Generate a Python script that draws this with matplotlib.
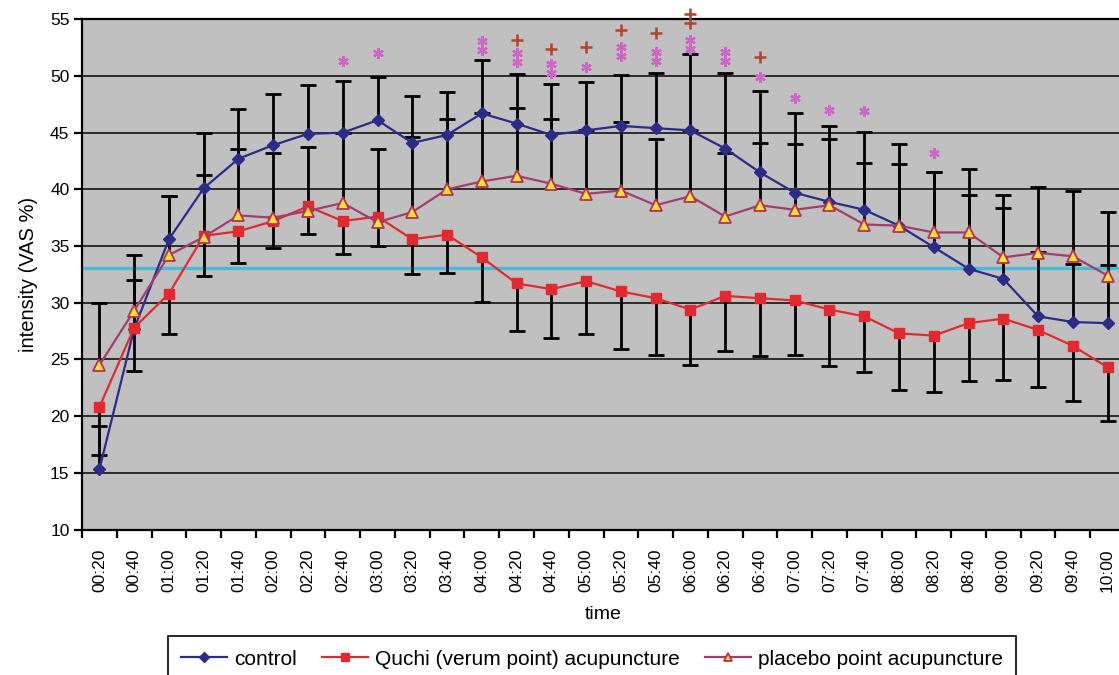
import numpy as np
import matplotlib
matplotlib.use("Agg")
import matplotlib.pyplot as plt

# ---------------- data ----------------
times = ["00:20", "00:40", "01:00", "01:20", "01:40", "02:00", "02:20", "02:40",
         "03:00", "03:20", "03:40", "04:00", "04:20", "04:40", "05:00", "05:20",
         "05:40", "06:00", "06:20", "06:40", "07:00", "07:20", "07:40", "08:00",
         "08:20", "08:40", "09:00", "09:20", "09:40", "10:00"]

control = [15.3, 27.7, 35.6, 40.1, 42.7, 43.9, 44.9, 45.0, 46.1, 44.1,
           44.8, 46.7, 45.8, 44.8, 45.2, 45.6, 45.4, 45.2, 43.6, 41.5,
           39.7, 38.9, 38.2, 36.8, 34.9, 33.0, 32.1, 28.8, 28.3, 28.2]
control_sd = [3.8, 4.3, 3.8, 4.9, 4.4, 4.5, 4.3, 4.6, 3.8, 4.1,
              3.8, 4.7, 4.4, 4.5, 4.3, 4.5, 4.9, 6.7, 6.7, 7.2,
              7.0, 6.7, 6.9, 7.2, 6.6, 6.5, 6.3, 5.7, 5.1, 5.1]

quchi = [20.8, 27.8, 30.8, 35.9, 36.3, 37.2, 38.5, 37.2, 37.6, 35.6,
         36.0, 34.0, 31.7, 31.2, 31.9, 31.0, 30.4, 29.4, 30.6, 30.4,
         30.2, 29.4, 28.8, 27.3, 27.1, 28.2, 28.6, 27.6, 26.2, 24.3]
quchi_sd = [4.2, 3.8, 3.6, 3.5, 2.8, 2.4, 2.4, 2.9, 2.6, 3.1,
            3.4, 3.9, 4.2, 4.3, 4.7, 5.1, 5.0, 4.9, 4.9, 5.1,
            4.8, 5.0, 4.9, 5.0, 5.0, 5.1, 5.4, 5.0, 4.9, 4.7]

placebo = [24.5, 29.3, 34.2, 35.8, 37.7, 37.5, 38.1, 38.8, 37.1, 38.0,
           40.0, 40.7, 41.2, 40.5, 39.6, 39.9, 38.6, 39.4, 37.6, 38.6,
           38.2, 38.6, 36.9, 36.8, 36.2, 36.2, 34.0, 34.4, 34.1, 32.4]
placebo_sd = [5.5, 4.9, 5.2, 5.5, 5.9, 5.7, 5.6, 6.2, 6.5, 6.6,
              6.2, 6.0, 6.0, 5.7, 5.6, 6.0, 5.8, 5.8, 5.6, 5.5,
              5.8, 5.8, 5.4, 5.4, 5.3, 5.6, 5.5, 5.8, 5.8, 5.6]

baseline = 33.1

# significance markers (category label, y position in VAS %)
star_t = ["02:40", "03:00", "04:00", "04:00", "04:20", "04:20", "04:40", "04:40",
          "05:00", "05:20", "05:20", "05:40", "05:40", "06:00", "06:00",
          "06:20", "06:20", "06:40", "07:00", "07:20", "07:40", "08:20"]
star_y = [51.3, 52.0, 53.1, 52.3, 52.0, 51.25, 51.1, 50.3,
          50.8, 52.6, 51.8, 52.15, 51.35, 53.2, 52.4,
          52.15, 51.35, 49.9, 48.1, 47.0, 46.9, 43.2]
plus_t = ["04:20", "04:40", "05:00", "05:20", "05:40", "06:00", "06:00", "06:40"]
plus_y = [53.2, 52.4, 52.6, 54.1, 53.8, 55.5, 54.7, 51.7]

# ---------------- plot ----------------
plt.rcParams['font.family'] = ['Liberation Sans', 'DejaVu Sans']

W, H = 1119, 675
fig = plt.figure(figsize=(W / 100, H / 100), dpi=100)
ax = fig.add_axes([82 / W, 1 - 529.5 / H, 1043 / W, (529.5 - 19.3) / H])
ax.set_facecolor('#C0C0C0')

x = np.arange(len(times))
pos = {t: i for i, t in enumerate(times)}

ax.set_xlim(-0.5, len(times) - 0.5)
ax.set_ylim(10, 55)
ax.set_yticks(np.arange(10, 56, 5))
ax.grid(axis='y', color='#202020', lw=1.3, zorder=1)
ax.set_axisbelow(True)

# cyan reference line
ax.axhline(baseline, color='#45BCD8', lw=2.4, zorder=1.5)

c_arr, q_arr, p_arr = np.array(control), np.array(quchi), np.array(placebo)
cap_kw = dict(ls='none', marker='_', ms=11.5, mew=2, color='black', zorder=2)
# control: upper bars
ax.vlines(x, c_arr, c_arr + np.array(control_sd), color='black', lw=2, zorder=2)
ax.plot(x, c_arr + np.array(control_sd), **cap_kw)
# quchi: lower bars
ax.vlines(x, q_arr - np.array(quchi_sd), q_arr, color='black', lw=2, zorder=2)
ax.plot(x, q_arr - np.array(quchi_sd), **cap_kw)
# placebo: upper bars
ax.vlines(x, p_arr, p_arr + np.array(placebo_sd), color='black', lw=2, zorder=2)
ax.plot(x, p_arr + np.array(placebo_sd), **cap_kw)

ax.plot(x, control, color='#2B2B88', lw=1.6, marker='D', ms=6.5,
        mfc='#2B2B88', mec='#2B2B88', label='control', zorder=3)
ax.plot(x, quchi, color='#E22A2E', lw=1.6, marker='s', ms=7,
        mfc='#E22A2E', mec='#E22A2E', label='Quchi (verum point) acupuncture', zorder=4)
ax.plot(x, placebo, color='#A03E70', lw=1.6, marker='^', ms=8.5,
        mfc='#FFE233', mec='#B8304E', mew=1.3, label='placebo point acupuncture', zorder=5)

# significance symbols
ax.plot([pos[t] for t in star_t], star_y, ls='none', marker=(6, 2, 0), ms=7.5,
        mew=1.7, color='#D065C8', zorder=6, clip_on=False)
ax.plot([pos[t] for t in plus_t], plus_y, ls='none', marker='+', ms=8.5,
        mew=1.8, color='#B8402C', zorder=6, clip_on=False)

# axes styling
for s in ['top', 'left', 'bottom', 'right']:
    ax.spines[s].set_color('black')
    ax.spines[s].set_linewidth(1.6)

ax.set_xticks(x)
ax.set_xticklabels(times, rotation=90, fontsize=12.5)
ax.tick_params(axis='x', which='major', length=0, pad=14)
ax.set_xticks(np.arange(-0.5, len(times), 1), minor=True)
ax.tick_params(axis='x', which='minor', length=6, width=1.6, direction='out')
ax.tick_params(axis='y', length=6, width=1.6, labelsize=12.5, pad=3)

ax.set_xlabel('time', fontsize=14, labelpad=10)
ax.set_ylabel('intensity (VAS %)', fontsize=14.5, labelpad=9)

leg = fig.legend(loc='upper center', bbox_to_anchor=(592 / W, 1 - 636 / H),
                 ncol=3, fontsize=15, frameon=True, fancybox=False,
                 edgecolor='black', framealpha=1, borderpad=0.65,
                 borderaxespad=0, handlelength=2.2, handletextpad=0.35,
                 columnspacing=1.2, markerscale=0.75)
leg.get_frame().set_linewidth(1.2)

fig.savefig('out.png', dpi=100)
